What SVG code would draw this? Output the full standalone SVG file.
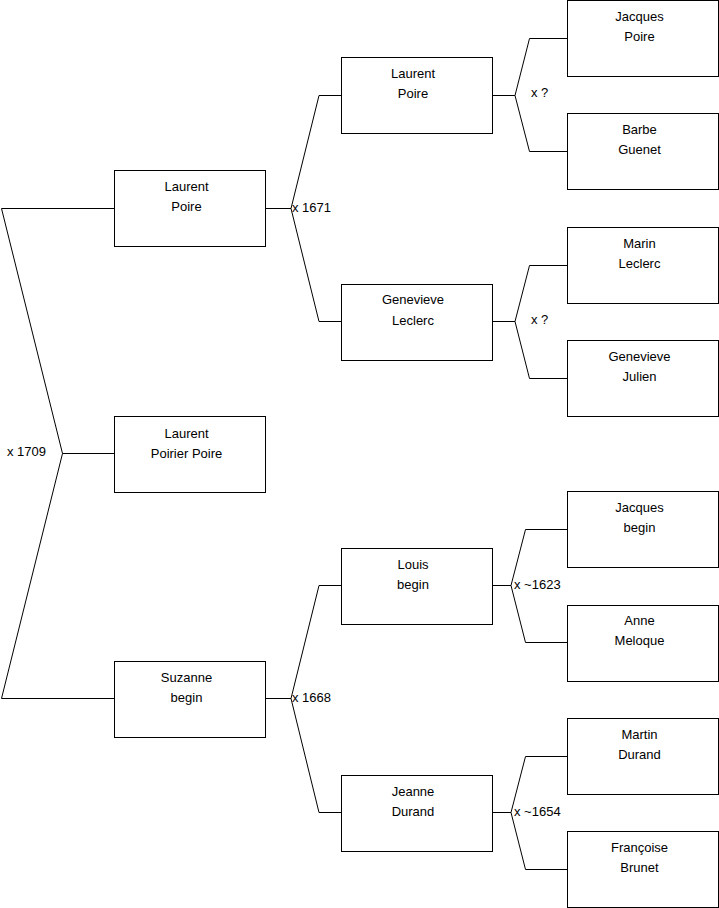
<svg xmlns="http://www.w3.org/2000/svg" width="719" height="908" viewBox="0 0 719 908">
<style>
.box{fill:#fff;stroke:#000;stroke-width:1}
.t{font-family:"Liberation Sans",Arial,sans-serif;font-size:13px;fill:#000;text-anchor:middle}
.l{font-family:"Liberation Sans",Arial,sans-serif;font-size:13px;fill:#000}
.c{fill:none;stroke:#000;stroke-width:1}
</style>
<rect width="719" height="908" fill="#fff"/>
<g id="connectors">
<path class="c" d="M114.5,208.5H1.5L62.5,453.5L1.5,698.5H114.5M62.5,453.5H114.5"/>
<path class="c" d="M265.5,208.5H291L319,95.5H341M291,208.5L319,321.5H341"/>
<path class="c" d="M265.5,698.5H291L319,585.5H341M291,698.5L319,812.5H341"/>
<path class="c" d="M492,95.5H515L529.5,38.5H567M515,95.5L529.5,151.5H567"/>
<path class="c" d="M492,321.5H515L529.5,265.5H567M515,321.5L529.5,378.5H567"/>
<path class="c" d="M492,585.5H511L525.5,529.5H567M511,585.5L525.5,642.5H567"/>
<path class="c" d="M492,812.5H511L525.5,756.5H567M511,812.5L525.5,869.5H567"/>
<text class="l" x="7" y="456">x 1709</text>
<text class="l" x="292" y="212">x 1671</text>
<text class="l" x="292" y="702">x 1668</text>
<text class="l" x="531" y="97">x ?</text>
<text class="l" x="531" y="324">x ?</text>
<text class="l" x="514" y="589">x ~1623</text>
<text class="l" x="514" y="816">x ~1654</text>
</g>
<g id="n1"><rect class="box" x="114.5" y="170.5" width="151" height="76"/><text class="t" x="186.5" y="191">Laurent</text><text class="t" x="186.5" y="211">Poire</text></g>
<g id="n0"><rect class="box" x="114.5" y="416.5" width="151" height="76"/><text class="t" x="186.5" y="438">Laurent</text><text class="t" x="186.5" y="458">Poirier Poire</text></g>
<g id="n2"><rect class="box" x="114.5" y="661.5" width="151" height="76"/><text class="t" x="186.5" y="682">Suzanne</text><text class="t" x="186.5" y="702">begin</text></g>
<g id="n3"><rect class="box" x="341.5" y="57.5" width="151" height="76"/><text class="t" x="413" y="78">Laurent</text><text class="t" x="413" y="98">Poire</text></g>
<g id="n4"><rect class="box" x="341.5" y="284.5" width="151" height="76"/><text class="t" x="413" y="304">Genevieve</text><text class="t" x="413" y="325">Leclerc</text></g>
<g id="n5"><rect class="box" x="341.5" y="548.5" width="151" height="76"/><text class="t" x="413" y="569">Louis</text><text class="t" x="413" y="589">begin</text></g>
<g id="n6"><rect class="box" x="341.5" y="775.5" width="151" height="76"/><text class="t" x="413" y="796">Jeanne</text><text class="t" x="413" y="816">Durand</text></g>
<g id="n7"><rect class="box" x="567.5" y="0.5" width="151" height="76"/><text class="t" x="639.5" y="21">Jacques</text><text class="t" x="639.5" y="41">Poire</text></g>
<g id="n8"><rect class="box" x="567.5" y="113.5" width="151" height="76"/><text class="t" x="639.5" y="134">Barbe</text><text class="t" x="639.5" y="154">Guenet</text></g>
<g id="n9"><rect class="box" x="567.5" y="227.5" width="151" height="76"/><text class="t" x="639.5" y="248">Marin</text><text class="t" x="639.5" y="268">Leclerc</text></g>
<g id="n10"><rect class="box" x="567.5" y="340.5" width="151" height="76"/><text class="t" x="639.5" y="361">Genevieve</text><text class="t" x="639.5" y="381">Julien</text></g>
<g id="n11"><rect class="box" x="567.5" y="491.5" width="151" height="76"/><text class="t" x="639.5" y="512">Jacques</text><text class="t" x="639.5" y="532">begin</text></g>
<g id="n12"><rect class="box" x="567.5" y="605.5" width="151" height="76"/><text class="t" x="639.5" y="625">Anne</text><text class="t" x="639.5" y="645">Meloque</text></g>
<g id="n13"><rect class="box" x="567.5" y="718.5" width="151" height="76"/><text class="t" x="639.5" y="739">Martin</text><text class="t" x="639.5" y="759">Durand</text></g>
<g id="n14"><rect class="box" x="567.5" y="831.5" width="151" height="76"/><text class="t" x="639.5" y="852">Françoise</text><text class="t" x="639.5" y="872">Brunet</text></g>
</svg>
